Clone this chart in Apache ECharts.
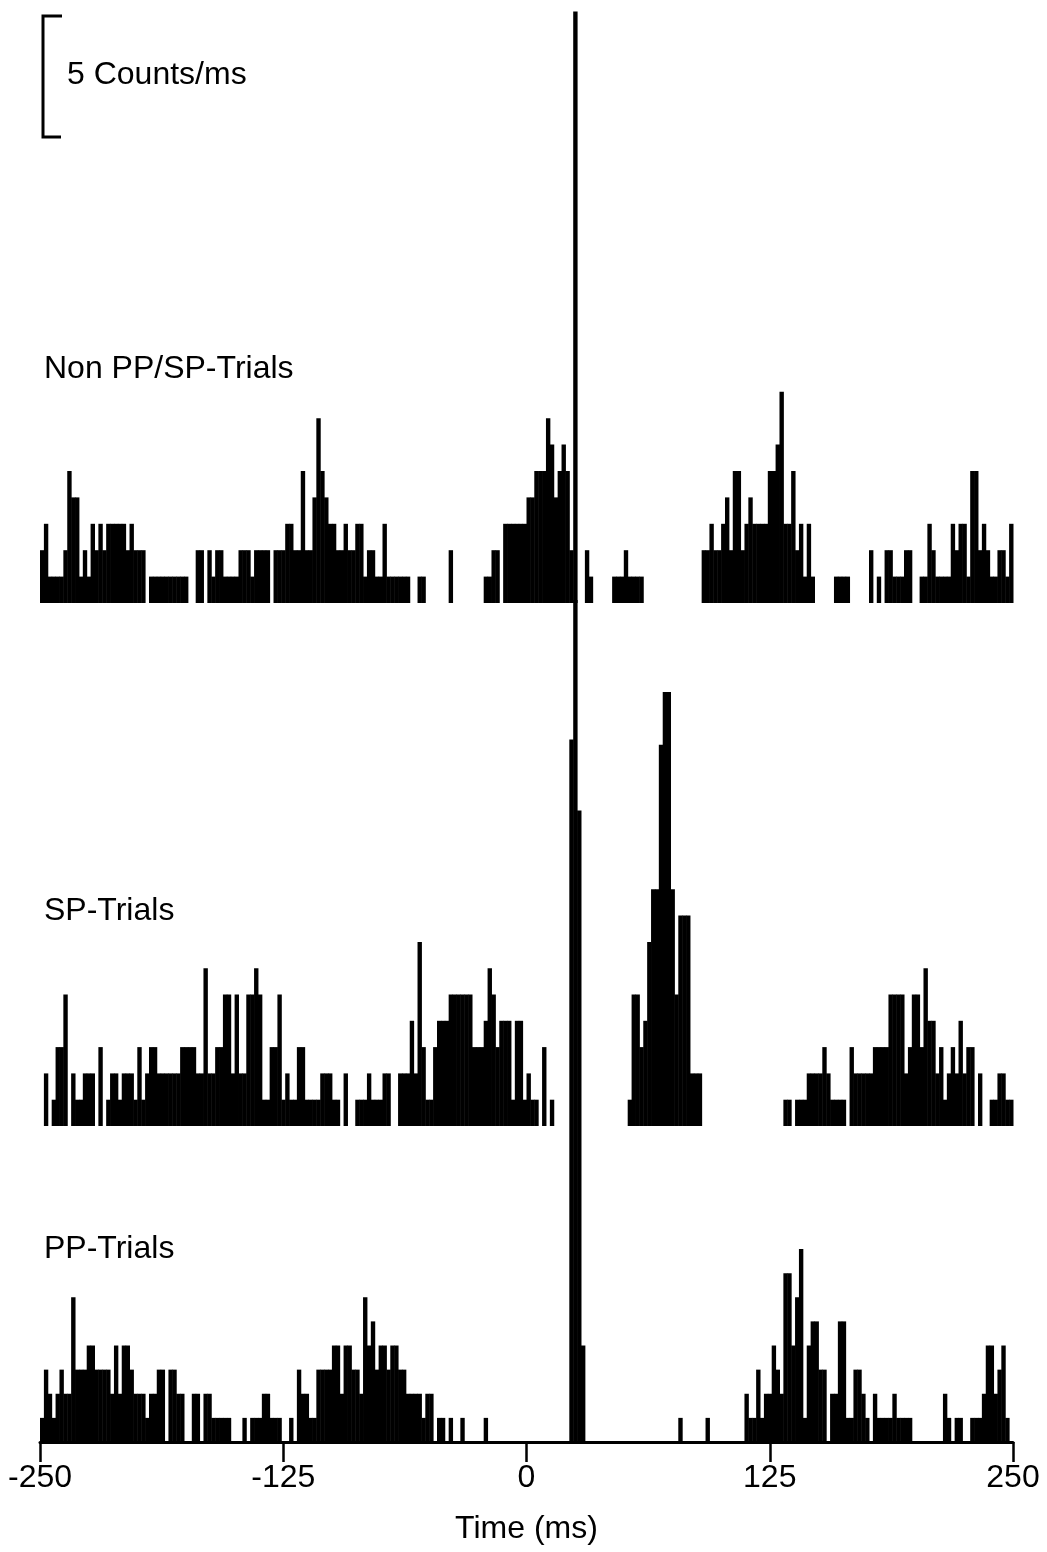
<!DOCTYPE html>
<html>
<head>
<meta charset="utf-8">
<script src="https://cdn.jsdelivr.net/npm/echarts@6/dist/echarts.min.js"></script>
<style>
html,body{margin:0;padding:0;background:#fff;}
#chart{width:1047px;height:1552px;}
</style>
</head>
<body>
<div id="chart"></div>
<script>
// Peri-stimulus time histograms, 2 ms bins from -250 ms to 250 ms (250 bins each)
const BIN_MS = 2;
const T_MIN = -250;
const T_MAX = 250;
const TICK_STEP = 125;
const panelLabels = ['Non PP/SP-Trials', 'SP-Trials', 'PP-Trials'];
const axisTitle = 'Time (ms)';
const scaleLabel = '5 Counts/ms';

const nonPPSP = [
  2,3,1,1,1,1,2,5,4,4,
  1,2,1,3,2,3,2,3,3,3,
  3,3,2,3,2,2,2,0,1,1,
  1,1,1,1,1,1,1,1,0,0,
  2,2,0,2,1,2,2,1,1,1,
  1,2,2,2,1,2,2,2,2,0,
  2,2,2,3,3,2,2,5,2,2,
  4,7,5,4,3,3,2,2,3,2,
  2,3,3,1,2,2,1,1,3,1,
  1,1,1,1,1,0,0,1,1,0,
  0,0,0,0,0,2,0,0,0,0,
  0,0,0,0,1,1,2,2,0,3,
  3,3,3,3,3,4,4,5,5,5,
  7,6,4,5,6,5,2,22.4,0,0,
  2,1,0,0,0,0,0,1,1,1,
  2,1,1,1,1,0,0,0,0,0,
  0,0,0,0,0,0,0,0,0,0,
  2,2,3,2,2,3,4,2,5,5,
  2,3,4,3,3,3,3,5,5,6,
  8,3,3,5,2,3,1,3,1,0,
  0,0,0,0,1,1,1,1,0,0,
  0,0,0,2,0,1,0,2,2,1,
  1,1,2,2,0,0,1,1,3,2,
  1,1,1,1,3,2,3,3,1,5,
  5,2,3,2,1,1,2,2,1,3
];

const spTrials = [
  0,2,0,1,3,3,5,0,2,1,
  1,2,2,2,0,3,0,1,2,2,
  1,2,2,2,1,3,1,2,3,3,
  2,2,2,2,2,2,3,3,3,3,
  2,2,6,2,2,3,3,5,5,2,
  5,2,2,5,5,6,5,1,1,3,
  3,5,1,2,1,1,3,3,1,1,
  1,1,2,2,2,1,1,0,2,0,
  0,1,1,1,2,1,1,1,2,2,
  0,0,2,2,2,4,2,7,3,1,
  1,3,4,4,4,5,5,5,5,5,
  5,3,3,3,4,6,5,3,4,4,
  4,1,4,4,1,2,1,1,0,3,
  0,1,0,0,0,0,14.7,20,12,0,
  0,0,0,0,0,0,0,0,0,0,
  0,1,5,5,3,4,7,9,9,14.5,
  16.5,16.5,9,5,8,8,8,2,2,2,
  0,0,0,0,0,0,0,0,0,0,
  0,0,0,0,0,0,0,0,0,0,
  0,1,1,0,1,1,1,2,2,2,
  2,3,2,1,1,1,1,0,3,2,
  2,2,2,2,3,3,3,3,5,5,
  5,5,2,3,5,5,3,6,4,4,
  2,3,1,2,3,2,4,2,3,3,
  0,2,0,0,1,1,2,2,1,1
];

const ppTrials = [
  1,3,2,1,2,3,2,2,6,3,
  3,3,4,4,3,3,3,3,2,4,
  2,4,4,3,2,2,2,1,2,2,
  3,3,0,3,3,2,2,0,0,2,
  2,0,2,2,1,1,1,1,1,0,
  0,0,1,0,1,1,1,2,2,1,
  1,1,0,0,1,0,3,2,2,1,
  1,3,3,3,3,4,4,2,4,4,
  3,3,2,6,4,5,3,4,4,3,
  4,4,3,3,2,2,2,2,1,2,
  2,0,1,1,0,1,0,0,1,0,
  0,0,0,0,1,0,0,0,0,0,
  0,0,0,0,0,0,0,0,0,0,
  0,0,0,0,0,0,13.1,13.1,13.1,4,
  0,0,0,0,0,0,0,0,0,0,
  0,0,0,0,0,0,0,0,0,0,
  0,0,0,0,1,0,0,0,0,0,
  0,1,0,0,0,0,0,0,0,0,
  0,2,1,1,3,1,2,2,4,3,
  2,7,7,4,6,8,1,4,5,5,
  3,3,0,2,2,5,5,1,1,3,
  3,2,1,0,2,1,1,1,1,2,
  1,1,1,1,0,0,0,0,0,0,
  0,0,2,1,0,1,1,0,0,1,
  1,1,2,4,4,2,3,4,1,0
];

const panels = [nonPPSP, spTrials, ppTrials];
// vertical extent of each panel (in the panel's own count units)
const yMax = [22.84, 20, 13.1];
const gridBoxes = [
  {top: 0, height: 603},
  {top: 600, height: 526},
  {top: 1126, height: 316}
];

function toData(vals) {
  const out = [];
  vals.forEach(function (v, i) {
    if (v > 0) out.push([T_MIN + i * BIN_MS, v]);
  });
  return out;
}

function renderItem(params, api) {
  const t = api.value(0), v = api.value(1);
  const a = api.coord([t, 0]);
  const b = api.coord([t + BIN_MS, v]);
  return {
    type: 'rect',
    shape: {x: a[0], y: b[1], width: b[0] - a[0] + 0.5, height: a[1] - b[1]},
    style: {fill: '#000'}
  };
}

const FONT = '"Liberation Sans", Arial, Helvetica, sans-serif';

const grids = gridBoxes.map(function (g) {
  return {left: 40, right: 34, top: g.top, height: g.height, outerBoundsMode: 'none', containLabel: false};
});

const xAxes = gridBoxes.map(function (g, i) {
  const isBottom = i === gridBoxes.length - 1;
  return {
    type: 'value', gridIndex: i, min: T_MIN, max: T_MAX, interval: TICK_STEP,
    show: isBottom,
    splitLine: {show: false},
    axisLine: {show: isBottom, lineStyle: {color: '#000', width: 3}},
    axisTick: {show: isBottom, length: 20, lineStyle: {color: '#000', width: 2.5}},
    axisLabel: {show: isBottom, color: '#000', fontSize: 32, fontFamily: FONT, margin: 20},
    name: isBottom ? axisTitle : '',
    nameLocation: 'middle', nameGap: 71,
    nameTextStyle: {color: '#000', fontSize: 32, fontFamily: FONT}
  };
});

const yAxes = gridBoxes.map(function (g, i) {
  return {type: 'value', gridIndex: i, min: 0, max: yMax[i], show: false, splitLine: {show: false}};
});

const series = panels.map(function (vals, i) {
  return {
    type: 'custom', xAxisIndex: i, yAxisIndex: i,
    renderItem: renderItem, data: toData(vals), clip: false,
    encode: {x: 0, y: 1}, silent: true
  };
});

const labelY = [369, 911, 1249];
const graphic = labelY.map(function (y, i) {
  return {
    type: 'text', x: 44, y: y,
    style: {text: panelLabels[i], font: '32px ' + FONT, fill: '#000', verticalAlign: 'middle', align: 'left'}
  };
});
graphic.push({
  type: 'polyline',
  shape: {points: [[62, 16], [43, 16], [43, 137], [61, 137]]},
  style: {stroke: '#000', lineWidth: 3, fill: null}
});
graphic.push({
  type: 'text', x: 67, y: 75,
  style: {text: scaleLabel, font: '32px ' + FONT, fill: '#000', verticalAlign: 'middle', align: 'left'}
});

const chart = echarts.init(document.getElementById('chart'), null, {renderer: 'canvas'});
chart.setOption({
  backgroundColor: '#fff',
  animation: false,
  grid: grids,
  xAxis: xAxes,
  yAxis: yAxes,
  series: series,
  graphic: graphic
});
</script>
</body>
</html>
